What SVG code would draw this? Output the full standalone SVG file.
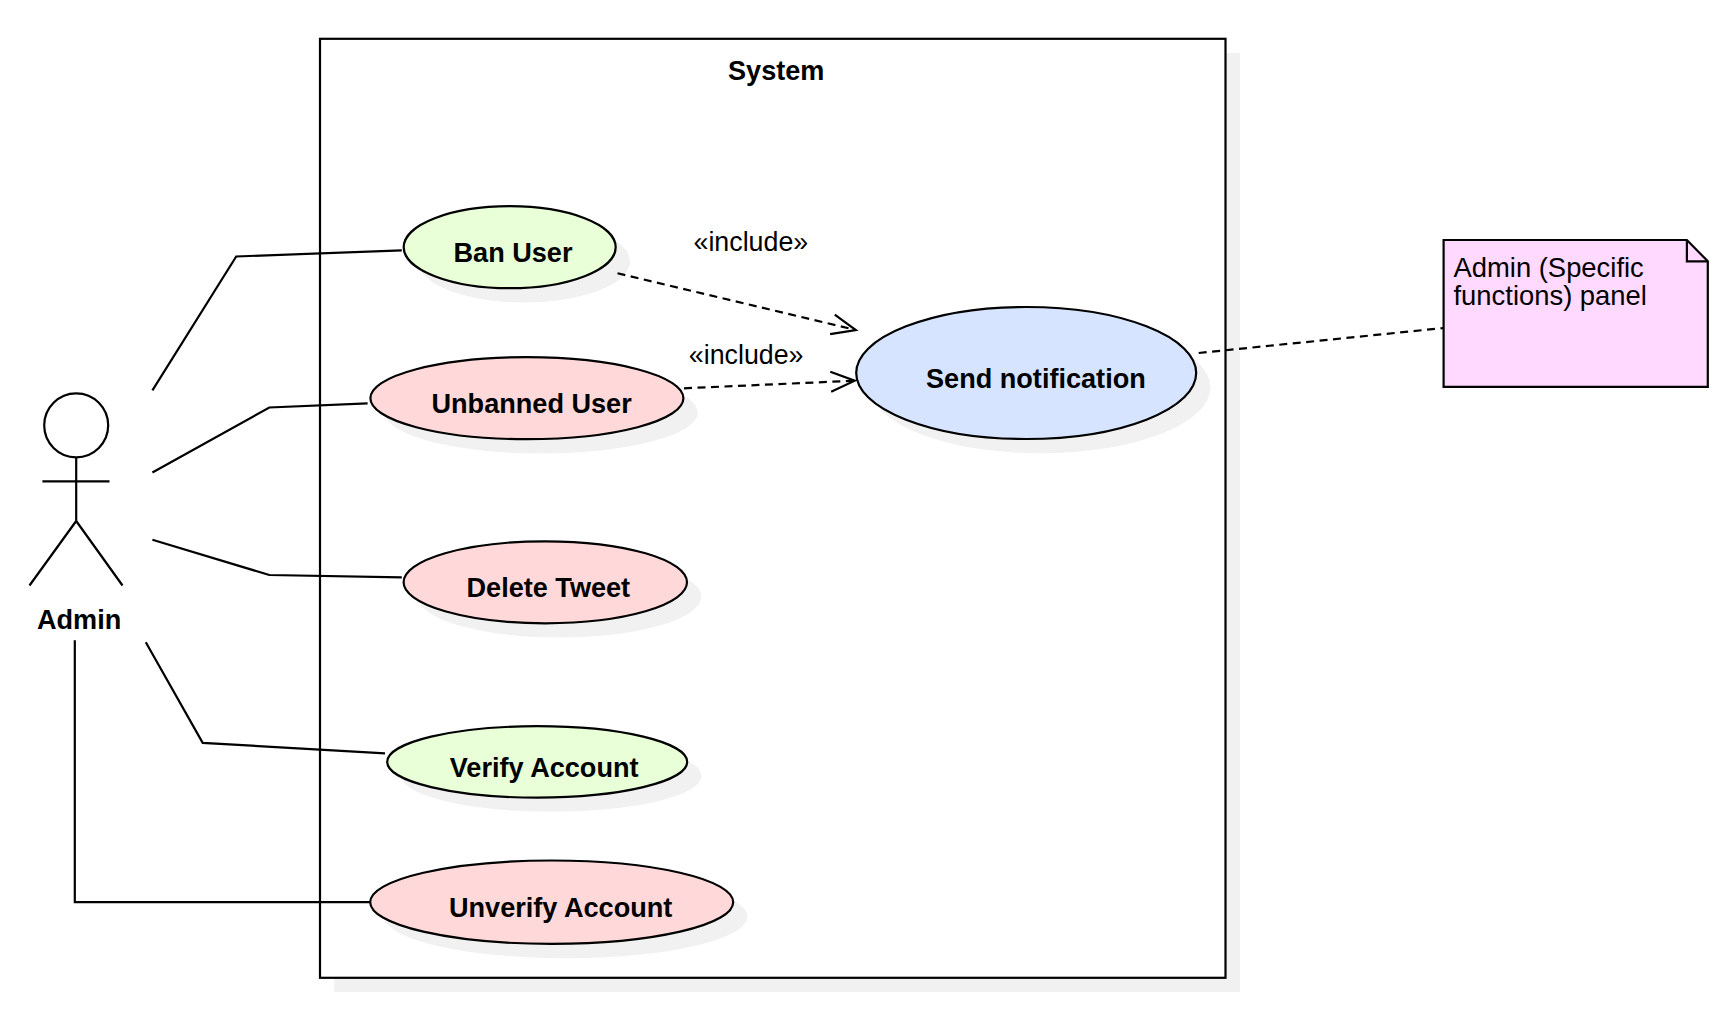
<svg xmlns="http://www.w3.org/2000/svg" width="1726" height="1024" viewBox="0 0 1726 1024">
<style>
.s{fill:#f1f1f1;stroke:none}
.n{stroke:#000;stroke-width:2.2}
.t{font-family:"Liberation Sans",Arial,sans-serif;font-size:27.1px;fill:#000}
.i{font-size:26.8px}
.p{font-size:27.4px}
.b{font-weight:bold}
.c{fill:none;stroke:#000;stroke-width:2.2}
.d{stroke-dasharray:8 5.5}
.g{fill:#e8ffd8}.r{fill:#ffd9d9}.u{fill:#d6e4ff}
</style>
<defs>
<marker id="open" markerUnits="userSpaceOnUse" markerWidth="30" markerHeight="30" refX="26" refY="12" orient="auto" viewBox="0 0 30 24"><path d="M2 2L26 12L2 22" fill="none" stroke="#000" stroke-width="2.2"/></marker>
</defs>
<rect width="1726" height="1024" fill="#fff"/>
<g id="system">
<rect class="s" x="334.3" y="53" width="905.7" height="939"/>
<rect class="n" x="320" y="38.8" width="905.5" height="939" fill="#fff"/>
<text class="t b" x="728" y="80">System</text>
</g>
<g id="actor-admin">
<circle cx="76.2" cy="425.3" r="32" fill="#fff" class="n"/>
<path class="c" d="M76.2 457.5V521M42.4 481.3H109.5M29.5 585.5L76.2 521L122.5 585.5"/>
<text class="t b" x="37" y="628.7">Admin</text>
</g>
<g id="ban-user">
<ellipse class="s" cx="524" cy="261.5" rx="106" ry="41"/>
<ellipse class="n g" cx="509.7" cy="247.2" rx="106" ry="41"/>
<text class="t b" x="453.5" y="261.5">Ban User</text>
</g>
<g id="unbanned-user">
<ellipse class="s" cx="541.2" cy="412.5" rx="156.5" ry="41"/>
<ellipse class="n r" cx="526.9" cy="398.2" rx="156.5" ry="41"/>
<text class="t b" x="431.5" y="412.7">Unbanned User</text>
</g>
<g id="delete-tweet">
<ellipse class="s" cx="559.6" cy="596.6" rx="141.7" ry="41"/>
<ellipse class="n r" cx="545.3" cy="582.3" rx="141.7" ry="41"/>
<text class="t b" x="466.5" y="596.8">Delete Tweet</text>
</g>
<g id="verify-account">
<ellipse class="s" cx="551.5" cy="776" rx="150" ry="35.7"/>
<ellipse class="n g" cx="537.2" cy="761.9" rx="150" ry="35.7"/>
<text class="t b" x="449.8" y="776.5">Verify Account</text>
</g>
<g id="unverify-account">
<ellipse class="s" cx="566" cy="916.5" rx="181.5" ry="41.7"/>
<ellipse class="n r" cx="551.7" cy="902.2" rx="181.5" ry="41.7"/>
<text class="t b" x="449" y="916.5">Unverify Account</text>
</g>
<g id="send-notification">
<ellipse class="s" cx="1040.5" cy="387.3" rx="170" ry="66"/>
<ellipse class="n u" cx="1026.2" cy="373" rx="170" ry="66"/>
<text class="t b" x="926" y="387.8">Send notification</text>
</g>
<g id="note">
<path class="n" fill="#ffd9ff" d="M1443.6 240H1686.9L1707.8 261.3V386.9H1443.6Z"/>
<path class="c" d="M1686.9 240V261.3H1707.8"/>
<text class="t p" x="1453.5" y="277">Admin (Specific</text>
<text class="t p" x="1453.5" y="305">functions) panel</text>
</g>
<g id="connectors">
<polyline class="c" points="152.4,390.3 236.2,256.5 401.8,250.3"/>
<polyline class="c" points="152.4,472.5 269.3,407.5 367.6,403.3"/>
<polyline class="c" points="152.4,539.7 269.3,575 401.8,577.3"/>
<polyline class="c" points="145.8,642.3 202.7,742.9 385,753.3"/>
<polyline class="c" points="74.8,640.3 74.8,902.2 370,902.2"/>
<line class="c d" x1="617.5" y1="273.3" x2="855.8" y2="330" marker-end="url(#open)"/>
<line class="c d" x1="684" y1="388.3" x2="854.7" y2="380.7" marker-end="url(#open)"/>
<line class="c d" x1="1198.7" y1="353" x2="1443.6" y2="328"/>
<text class="t i" x="693.5" y="250.7">«include»</text>
<text class="t i" x="688.8" y="364.3">«include»</text>
</g>
</svg>
